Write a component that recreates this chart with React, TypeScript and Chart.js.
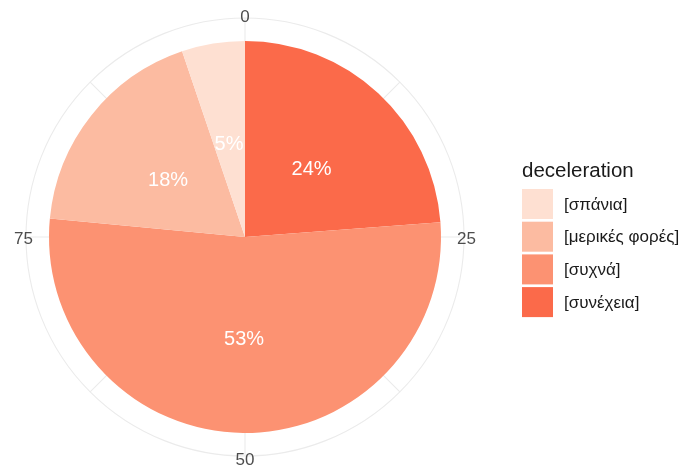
import React, { useEffect, useRef } from "react";
import { Chart, registerables } from "chart.js";

Chart.register(...registerables);

// Legend order (as in reference legend)
const categories = ["[σπάνια]", "[μερικές φορές]", "[συχνά]", "[συνέχεια]"];
const values = [5.2, 18.3, 52.7, 23.8];
const colors = ["#FEE0D2", "#FCBBA1", "#FC9272", "#FB6A4A"];
const legendTitle = "deceleration";
const thetaTicks = [0, 25, 50, 75];
const thetaMinor = [12.5, 37.5, 62.5, 87.5];
const thetaMax = 100;

const FONT = "'Liberation Sans', Arial, Helvetica, sans-serif";

export default function App() {
  const ref = useRef<HTMLCanvasElement | null>(null);

  useEffect(() => {
    if (!ref.current) return;
    // Pie drawn clockwise from top: reverse of legend order
    const pieLabels = [...categories].reverse();
    const pieValues = [...values].reverse();
    const pieColors = [...colors].reverse();

    const polarGrid = {
      id: "polarGrid",
      beforeDatasetsDraw(chart: any) {
        const arc = chart.getDatasetMeta(0).data[0];
        if (!arc) return;
        const cx = arc.x, cy = arc.y, R = arc.outerRadius;
        const gridR = R * (0.45 / 0.4) - 1.5;
        const ctx = chart.ctx;
        ctx.save();
        ctx.strokeStyle = "#EBEBEB";
        ctx.lineWidth = 1.1;
        ctx.beginPath();
        ctx.arc(cx, cy, gridR, 0, Math.PI * 2);
        ctx.stroke();
        [...thetaTicks, ...thetaMinor].forEach((t) => {
          const a = -Math.PI / 2 + (2 * Math.PI * t) / thetaMax;
          ctx.beginPath();
          ctx.moveTo(cx, cy);
          ctx.lineTo(cx + gridR * Math.cos(a), cy + gridR * Math.sin(a));
          ctx.stroke();
        });
        ctx.fillStyle = "#4D4D4D";
        ctx.font = `17px ${FONT}`;
        ctx.textAlign = "center";
        ctx.textBaseline = "middle";
        thetaTicks.forEach((t) => {
          const a = -Math.PI / 2 + (2 * Math.PI * t) / thetaMax;
          const lr = gridR + 2.5;
          ctx.fillText(String(t), cx + lr * Math.cos(a), cy + lr * Math.sin(a) + 2);
        });
        ctx.restore();
      },
      afterDatasetsDraw(chart: any) {
        const meta = chart.getDatasetMeta(0);
        const ds = chart.data.datasets[0].data as number[];
        const total = ds.reduce((s, v) => s + v, 0);
        const ctx = chart.ctx;
        ctx.save();
        ctx.fillStyle = "#FFFFFF";
        ctx.font = `20px ${FONT}`;
        ctx.textAlign = "center";
        ctx.textBaseline = "middle";
        meta.data.forEach((el: any, i: number) => {
          const mid = (el.startAngle + el.endAngle) / 2;
          const r = el.outerRadius / 2;
          const txt = Math.round((ds[i] / total) * 100) + "%";
          ctx.fillText(txt, el.x + r * Math.cos(mid), el.y + r * Math.sin(mid) + 4);
        });
        ctx.restore();
      },
      afterDraw(chart: any) {
        const ctx = chart.ctx;
        ctx.save();
        ctx.fillStyle = "#1A1A1A";
        ctx.font = `20.5px ${FONT}`;
        ctx.textAlign = "left";
        ctx.textBaseline = "alphabetic";
        ctx.fillText(legendTitle, 522, 177);
        const x0 = 522, y0 = 189, step = 32.7, bw = 31, bh = 30;
        categories.forEach((c, i) => {
          const y = y0 + i * step;
          ctx.fillStyle = colors[i];
          ctx.fillRect(x0, y, bw, bh);
          ctx.fillStyle = "#1A1A1A";
          ctx.font = `17px ${FONT}`;
          ctx.textBaseline = "middle";
          ctx.fillText(c, 564, y + bh / 2 + 1);
        });
        ctx.restore();
      },
    };

    const chart = new Chart(ref.current, {
      type: "pie",
      data: {
        labels: pieLabels,
        datasets: [
          {
            data: pieValues,
            backgroundColor: pieColors,
            borderWidth: 0,
            hoverOffset: 0,
          },
        ],
      },
      options: {
        responsive: false,
        animation: false,
        radius: 196,
        layout: { padding: { left: 49, right: 242, top: 41, bottom: 35 } },
        plugins: {
          legend: { display: false },
          tooltip: { enabled: false },
        },
        events: [],
      } as any,
      plugins: [polarGrid],
    });
    return () => chart.destroy();
  }, []);

  return (
    <div style={{ position: "fixed", left: 0, top: 0, width: 683, height: 468, background: "#fff" }}>
      <canvas ref={ref} width={683} height={468} style={{ display: "block" }} />
    </div>
  );
}
